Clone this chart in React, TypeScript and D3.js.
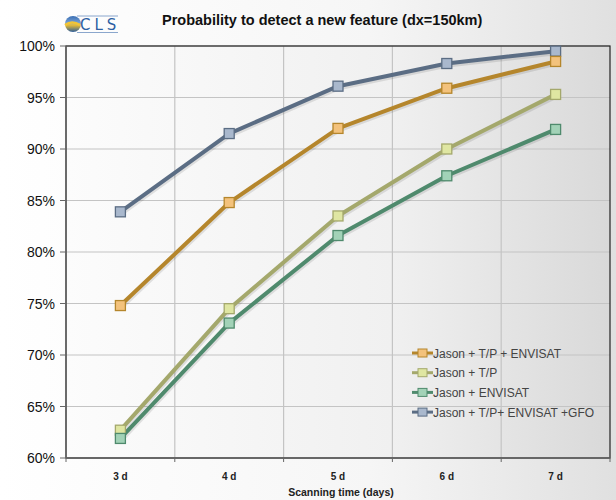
import React from 'react';
import * as d3 from 'd3';

const categories = ['3 d', '4 d', '5 d', '6 d', '7 d'];
const yTicks = [0.6, 0.65, 0.7, 0.75, 0.8, 0.85, 0.9, 0.95, 1.0];

const seriesNames = [
  'Jason + T/P + ENVISAT',
  'Jason + T/P',
  'Jason + ENVISAT',
  'Jason + T/P+ ENVISAT +GFO',
];
const jtpEnvisat = [0.748, 0.848, 0.92, 0.959, 0.985];
const jtp = [0.627, 0.745, 0.835, 0.90, 0.953];
const jEnvisat = [0.619, 0.731, 0.816, 0.874, 0.919];
const jtpEnvisatGfo = [0.839, 0.915, 0.961, 0.983, 0.995];

const lineColors = ['#b5862c', '#a4a86c', '#4f8a6d', '#5b6d84'];
const markerColors = ['#f3c27c', '#dfe6a2', '#a2d2b7', '#a9b8cd'];

const W = 616;
const H = 500;
const margin = { top: 46, right: 6, bottom: 42, left: 66 };

const App: React.FC = () => {
  const innerW = W - margin.left - margin.right;
  const innerH = H - margin.top - margin.bottom;

  const x = d3.scaleBand<string>().domain(categories).range([0, innerW]);
  const y = d3.scaleLinear().domain([0.6, 1.0]).range([innerH, 0]);
  const cx = (c: string) => (x(c) ?? 0) + x.bandwidth() / 2;

  const allSeries = [jtpEnvisat, jtp, jEnvisat, jtpEnvisatGfo];
  // blue first so orange sits on top at 7d
  const drawOrder = [3, 0, 1, 2];

  const line = d3.line<number>()
    .x((_, i) => cx(categories[i]))
    .y(d => y(d));

  const pct = d3.format('.0%');
  const legendX = 346;
  const legendY0 = 307;

  return (
    <svg width={W} height={H} style={{ position: 'absolute', left: 0, top: 0, fontFamily: 'Arial, "Liberation Sans", sans-serif' }}>
      <defs>
        <linearGradient id="bg" x1="0" x2="1" y1="0" y2="0">
          <stop offset="0" stopColor="#ffffff" />
          <stop offset="0.6" stopColor="#f6f6f6" />
          <stop offset="1" stopColor="#e0e0e0" />
        </linearGradient>
        <linearGradient id="plotbg" x1="0" x2="1" y1="0" y2="0">
          <stop offset="0" stopColor="#fcfcfc" />
          <stop offset="0.6" stopColor="#f0f0f0" />
          <stop offset="1" stopColor="#d9d9d9" />
        </linearGradient>
        <linearGradient id="globe" x1="0" x2="0" y1="0" y2="1">
          <stop offset="0" stopColor="#3a6fb4" />
          <stop offset="0.45" stopColor="#7aa3d6" />
          <stop offset="0.55" stopColor="#f0c030" />
          <stop offset="1" stopColor="#2c5d9c" />
        </linearGradient>
      </defs>
      <rect width={W} height={H} fill="url(#bg)" />

      {/* logo */}
      <g transform="translate(60,13)">
        <circle cx={13} cy={11} r={8} fill="url(#globe)" />
        <path d="M5,12 Q12,7 20,12" stroke="#f2c536" strokeWidth={2.5} fill="none" />
        <line x1={17} x2={58} y1={3} y2={3} stroke="#6d90c0" strokeWidth={0.8} />
        <line x1={17} x2={58} y1={19.5} y2={19.5} stroke="#6d90c0" strokeWidth={0.8} />
        <text x={20} y={17} fontSize={15} fill="#2d5fa3" letterSpacing={4} fontFamily='"DejaVu Sans", sans-serif'>CLS</text>
      </g>
      <text x={162} y={25} fontSize={14.5} fontWeight="bold" fill="#111">
        Probability to detect a new feature (dx=150km)
      </text>

      <g transform={`translate(${margin.left},${margin.top})`}>
        <rect width={innerW} height={innerH} fill="url(#plotbg)" />
        {yTicks.map(t => (
          <line key={t} x1={0} x2={innerW} y1={y(t)} y2={y(t)} stroke="#c4c4c4" strokeWidth={1.2} />
        ))}
        {categories.slice(1).map(c => (
          <line key={c} x1={x(c)} x2={x(c)} y1={0} y2={innerH} stroke="#c4c4c4" strokeWidth={1.2} />
        ))}
        <rect width={innerW} height={innerH} fill="none" stroke="#222" strokeWidth={1.2} />
        <line x1={0} x2={0} y1={0} y2={innerH} stroke="#666" strokeWidth={1.4} />
        <line x1={0} x2={innerW} y1={innerH} y2={innerH} stroke="#666" strokeWidth={1.4} />

        {/* y axis */}
        {yTicks.map(t => (
          <g key={t}>
            <line x1={-6} x2={0} y1={y(t)} y2={y(t)} stroke="#666" />
            <text x={-11} y={y(t) + 5} fontSize={14} textAnchor="end" fill="#111">{pct(t)}</text>
          </g>
        ))}
        {/* x axis */}
        {[...categories.map(c => x(c) ?? 0), innerW].map((v, i) => (
          <line key={i} x1={v} x2={v} y1={innerH} y2={innerH + 4} stroke="#666" />
        ))}
        {categories.map(c => (
          <text key={c} x={cx(c)} y={innerH + 22} fontSize={10} fontWeight="bold" textAnchor="middle" fill="#222"
            fontFamily='"Liberation Sans Narrow", Arial, sans-serif'>{c}</text>
        ))}
        <text x={innerW / 2 + 3} y={innerH + 38} fontSize={10.5} fontWeight="bold" textAnchor="middle" fill="#222"
          fontFamily='"Liberation Sans Narrow", Arial, sans-serif'>Scanning time (days)</text>

        {/* series */}
        {drawOrder.map(si => (
          <g key={si}>
            <path d={line(allSeries[si]) ?? ''} fill="none" stroke="rgba(0,0,0,0.1)" strokeWidth={4} transform="translate(1,2)" />
            <path d={line(allSeries[si]) ?? ''} fill="none" stroke={lineColors[si]} strokeWidth={4} strokeLinejoin="round" />
          </g>
        ))}
        {drawOrder.map(si => (
          <g key={`m${si}`}>
            {allSeries[si].map((v, i) => (
              <rect key={i} x={cx(categories[i]) - 5} y={y(v) - 5} width={10} height={10}
                fill={markerColors[si]} stroke={lineColors[si]} strokeWidth={1.3} />
            ))}
          </g>
        ))}

        {/* legend */}
        {seriesNames.map((n, i) => {
          const ly = legendY0 + i * 19.7;
          return (
            <g key={n} transform={`translate(${legendX},${ly})`}>
              <line x1={0} x2={21} y1={0} y2={0} stroke={lineColors[i]} strokeWidth={3} />
              <rect x={6} y={-4} width={9} height={8} fill={markerColors[i]} stroke={lineColors[i]} strokeWidth={1} />
              <text x={21} y={4.5} fontSize={12} fill="#444">{n}</text>
            </g>
          );
        })}
      </g>
    </svg>
  );
};

export default App;
